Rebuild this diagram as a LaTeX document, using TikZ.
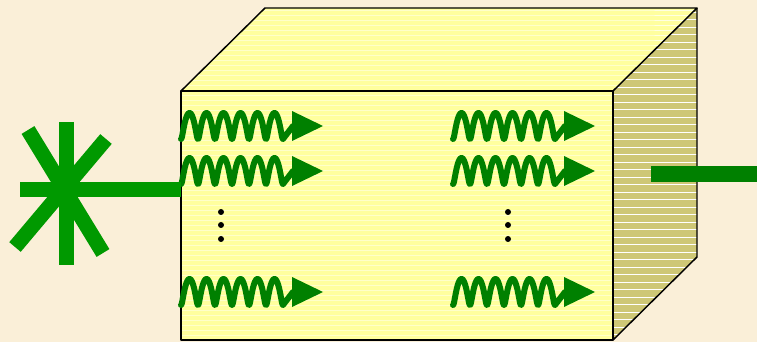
\documentclass[tikz,border=0pt]{standalone}
\usepackage{xcolor}
\usepackage{tikz}

\definecolor{paper}{RGB}{250,239,216}
\definecolor{slab}{RGB}{255,255,158}
\definecolor{slabside}{RGB}{206,199,118}
\definecolor{rayGreen}{RGB}{0,153,0}
\definecolor{waveGreen}{RGB}{0,128,0}

\begin{document}
\begin{tikzpicture}[
    x=0.75pt, y=-0.75pt,
    face/.style={draw=black, line width=1.1pt, line join=round},
    stripe/.style={white!70!slab, line width=0.6pt},
    sidestripe/.style={white, line width=0.6pt},
    ray/.style={rayGreen, line width=11.25pt},
    beam/.style={waveGreen, line width=12pt},
    wave/.pic={
        \draw[waveGreen, line width=4.5pt, line cap=round, line join=round]
            plot[domain=0:2160, samples=240, smooth] ({\x/360*17 - 1.2*sin(\x)}, {13*cos(\x)})
            -- (112,0);
        \fill[waveGreen] (111,-15) -- (142,0) -- (111,15) -- cycle;
    }
]

% paper background
\fill[paper] (0,0) rectangle (757,342);
\useasboundingbox (0,0) rectangle (757,342);

% corners of the slab
\coordinate (ftl) at (181,91);
\coordinate (ftr) at (613,91);
\coordinate (fbr) at (613,340);
\coordinate (fbl) at (181,340);
\coordinate (btl) at (265,8);
\coordinate (btr) at (697,8);
\coordinate (bbr) at (697,257);

% faces
\fill[slab] (ftl) -- (ftr) -- (fbr) -- (fbl) -- cycle;
\fill[slab] (ftl) -- (btl) -- (btr) -- (ftr) -- cycle;
\fill[slabside] (ftr) -- (btr) -- (bbr) -- (fbr) -- cycle;

% ruled lines on the faces
\begin{scope}
    \clip (fbl) -- (ftl) -- (btl) -- (btr) -- (ftr) -- (fbr) -- cycle;
    \foreach \y in {10,15,...,338}
        \draw[stripe] (181,\y) -- (613,\y) -- (697,\y);
\end{scope}
\begin{scope}
    \clip (ftr) -- (btr) -- (bbr) -- (fbr) -- cycle;
    \foreach \y in {12,19.5,...,340}
        \draw[sidestripe] (613,\y) -- (697,\y);
\end{scope}

\draw[face] (ftl) -- (ftr) -- (fbr) -- (fbl) -- cycle;
\draw[face] (ftl) -- (btl) -- (btr) -- (ftr);
\draw[face] (btr) -- (bbr) -- (fbr);

% waves inside the slab
\foreach \row in {126,171,292} {
    \pic at (181,\row) {wave};
    \pic at (453,\row) {wave};
}

% dots
\foreach \y in {212,225,239} {
    \fill (221,\y) circle (3);
    \fill (508,\y) circle (3);
}

% source
\coordinate (src) at (66,190);
\coordinate (inlet) at (181,190);
\draw[ray] (20,190) -- (inlet);
\draw[ray] (66,122) -- (66,265);
\draw[ray] (28,130) -- (103,253);
\draw[ray] (106,139) -- (15,247);

% output beam
\coordinate (outlet) at (651,174);
\coordinate (farend) at (757,174);
\draw[beam] (outlet) -- (farend);

\end{tikzpicture}
\end{document}
